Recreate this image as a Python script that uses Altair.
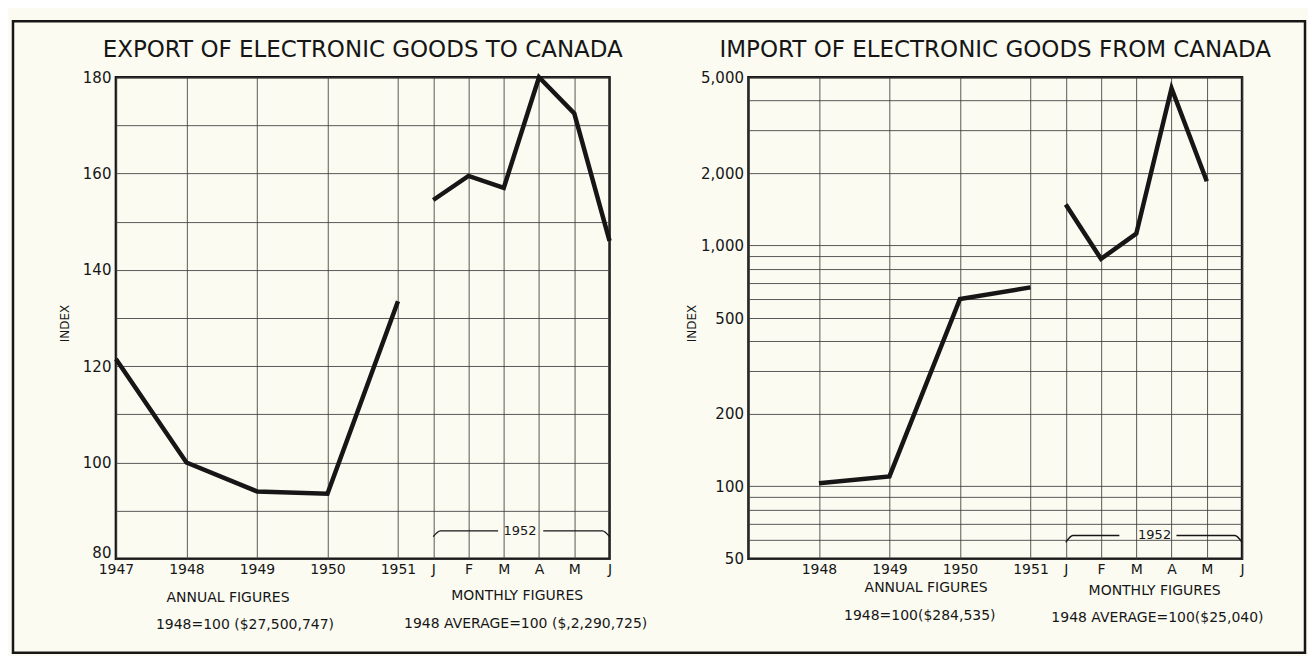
import json
import altair as alt
import pandas as pd

# ---------------- data ----------------
annual_years = ["1947", "1948", "1949", "1950", "1951"]
months_1952 = ["J", "F", "M", "A", "M", "J"]

export_annual = [121.5, 100, 94, 93.5, 133.5]          # 1947..1951
export_monthly = [154.5, 159.5, 157, 180, 172.5, 146]   # J..J 1952

import_years = ["1948", "1949", "1950", "1951"]
import_annual = [103, 110, 600, 670]
import_monthly = [1480, 880, 1120, 4500, 1850]          # J..M 1952

export_y_grid = list(range(80, 181, 10))
export_y_labeled = [80, 100, 120, 140, 160, 180]
import_y_grid = [50, 60, 70, 80, 90, 100, 200, 300, 400, 500, 600, 700, 800,
                 900, 1000, 2000, 3000, 4000, 5000]
import_y_labeled = [50, 100, 200, 500, 1000, 2000, 5000]

export_title = "EXPORT OF ELECTRONIC GOODS TO CANADA"
import_title = "IMPORT OF ELECTRONIC GOODS FROM CANADA"
export_notes = ["ANNUAL FIGURES", "1948=100 ($27,500,747)",
                "MONTHLY FIGURES", "1948 AVERAGE=100 ($,2,290,725)"]
import_notes = ["ANNUAL FIGURES", "1948=100($284,535)",
                "MONTHLY FIGURES", "1948 AVERAGE=100($25,040)"]

# ---------------- layout helpers ----------------
W, H = 494, 482
FONT = "DejaVu Sans"
INK = "#161616"

year_pos = {y: float(i) for i, y in enumerate(annual_years)}
month_pos = [4.5 + 0.5 * k for k in range(len(months_1952))]
tick_pos = [year_pos[y] for y in annual_years] + month_pos


def series_frame(years, annual, monthly):
    rows = []
    for y, v in zip(years, annual):
        rows.append({"pos": year_pos[y], "value": v, "seg": "annual"})
    for p, v in zip(month_pos, monthly):
        rows.append({"pos": p, "value": v, "seg": "monthly"})
    return pd.DataFrame(rows)


def panel(title, df, yscale, ygrid, ylabel_expr, tick_labels, notes, note_x,
          note_y, bracket, year_xy, title_x, frame=False, lift_bottom=0):
    x_expr = f"{json.dumps(tick_labels)}[indexof({json.dumps(tick_pos)}, datum.value)]"
    xenc = alt.X("pos:Q", scale=alt.Scale(domain=[0, 7], nice=False, zero=False),
                 axis=alt.Axis(values=tick_pos, labelExpr=x_expr, grid=True,
                               ticks=False, domain=False, title=None,
                               labelFlush=False, labelOverlap=False,
                               labelFontSize=14, labelPadding=4))
    yenc = alt.Y("value:Q", scale=yscale,
                 axis=alt.Axis(values=ygrid, labelExpr=ylabel_expr, grid=True,
                               ticks=False, domain=False, labelOverlap=False,
                               labelFontSize=15, labelPadding=5,
                               labelOffset={"condition": {"test": f"datum.value === {ygrid[0]}",
                                                          "value": -lift_bottom},
                                            "value": 0},
                               title="INDEX", titleFontSize=12,
                               titleFontWeight="normal", titleAngle=270,
                               titleX=title_x, titleY=H / 2 + 5,
                               titleAlign="center", titleBaseline="middle"))
    line = alt.Chart(df).mark_line(color=INK, strokeWidth=4.5, strokeJoin="miter",
                                   strokeCap="butt").encode(x=xenc, y=yenc, detail="seg:N")

    bdf = pd.DataFrame(bracket)
    br = alt.Chart(bdf).mark_line(color=INK, strokeWidth=1.4,
                                  interpolate="monotone").encode(
        x="pos:Q", y="value:Q", detail="piece:N")
    ylab = alt.Chart(pd.DataFrame([{"pos": year_xy[0], "value": year_xy[1],
                                    "t": "1952"}])).mark_text(
        fontSize=13, color=INK, baseline="middle").encode(x="pos:Q", y="value:Q", text="t:N")

    ttl = alt.Chart(pd.DataFrame([{"t": title}])).mark_text(
        fontSize=23, color=INK, baseline="middle", align="center").encode(
        x=alt.value(W / 2), y=alt.value(-27), text="t:N")

    layers = [line, br, ylab, ttl]
    for txt, nx, ny in zip(notes, note_x, note_y):
        layers.append(alt.Chart(pd.DataFrame([{"pos": nx, "t": txt}])).mark_text(
            fontSize=14, color=INK, baseline="middle").encode(
            x="pos:Q", y=alt.value(ny), text="t:N"))
    if frame:
        layers.append(alt.Chart(pd.DataFrame({"f": [0]})).mark_rect(
            filled=False, stroke=INK, strokeWidth=2.5).encode(
            x=alt.value(-103), x2=alt.value(1190), y=alt.value(-56), y2=alt.value(576)))

    return alt.layer(*layers).properties(width=W, height=H)


left_df = series_frame(annual_years, export_annual, export_monthly)
right_df = series_frame(import_years, import_annual, import_monthly)

left_bracket = [
    {"pos": 4.5, "value": 84.6, "piece": "a"}, {"pos": 4.6, "value": 85.8, "piece": "a"},
    {"pos": 5.42, "value": 85.8, "piece": "a"},
    {"pos": 6.06, "value": 85.8, "piece": "b"}, {"pos": 6.9, "value": 85.8, "piece": "b"},
    {"pos": 7.0, "value": 84.6, "piece": "b"},
]
right_bracket = [
    {"pos": 4.5, "value": 58.5, "piece": "a"}, {"pos": 4.6, "value": 62.5, "piece": "a"},
    {"pos": 5.26, "value": 62.5, "piece": "a"},
    {"pos": 6.07, "value": 62.5, "piece": "b"}, {"pos": 6.9, "value": 62.5, "piece": "b"},
    {"pos": 7.0, "value": 58.5, "piece": "b"},
]

left_label_expr = (f"indexof({json.dumps(export_y_labeled)}, datum.value) >= 0 "
                   "? datum.label : ''")
right_label_expr = (f"indexof({json.dumps(import_y_labeled)}, datum.value) >= 0 "
                    "? format(datum.value, ',') : ''")

left = panel(export_title, left_df,
             alt.Scale(domain=[80, 180], nice=False, zero=False),
             export_y_grid, left_label_expr,
             annual_years + months_1952,
             export_notes, [1.59, 1.83, 5.69, 5.81], [521, 548, 519, 547],
             left_bracket, (5.73, 85.8), -51, frame=True, lift_bottom=6)

right = panel(import_title, right_df,
              alt.Scale(type="log", domain=[50, 5000], nice=False),
              import_y_grid, right_label_expr,
              [""] + annual_years[1:] + months_1952,
              import_notes, [2.52, 2.43, 5.76, 5.8], [511, 539, 514, 541],
              right_bracket, (5.76, 62.5), -57)

chart = alt.hconcat(left, right, spacing=139, bounds="flush").properties(
    padding={"left": 2, "top": 10, "right": 0, "bottom": 0},
    background="#fbfbf2",
).configure_view(stroke=INK, strokeWidth=2.5).configure_axis(
    gridColor="#3c3c3c", gridWidth=1, gridOpacity=0.85,
    labelFont=FONT, titleFont=FONT, labelColor=INK, titleColor=INK,
).configure_text(font=FONT)

chart.save("out.html", embed_options={"renderer": "svg", "actions": False})
